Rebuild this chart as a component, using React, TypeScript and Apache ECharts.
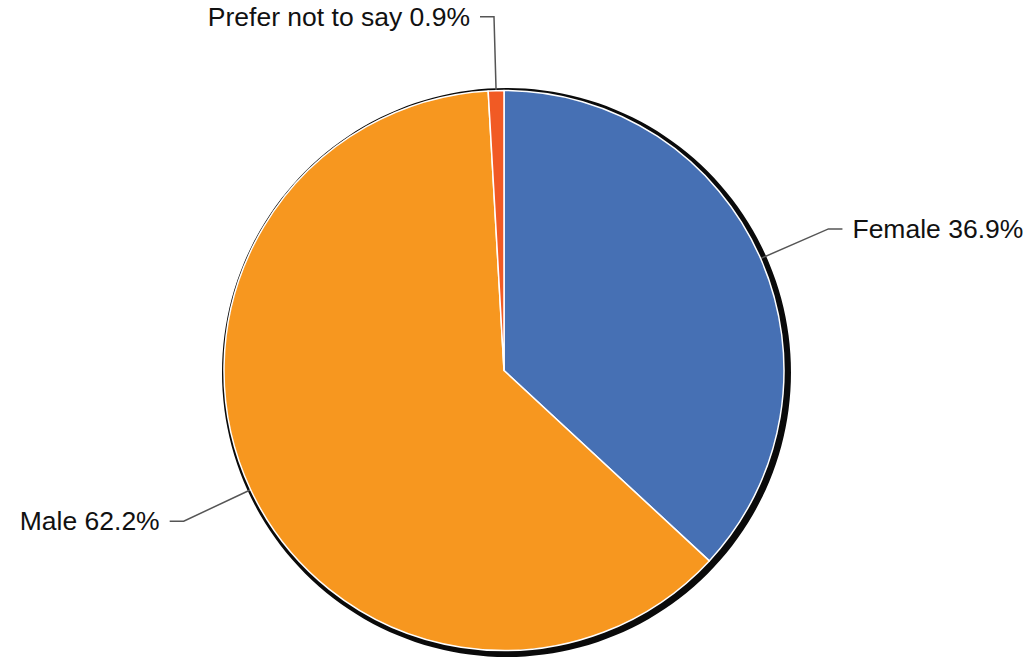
import React, { useEffect, useRef } from "react";
import * as echarts from "echarts";

const categories = ["Female", "Male", "Prefer not to say"];
const values = [36.9, 62.2, 0.9];
const colors = ["#4670b4", "#f7971f", "#f15a24"];

export default function App() {
  const ref = useRef<HTMLDivElement>(null);
  useEffect(() => {
    if (!ref.current) return;
    const chart = echarts.init(ref.current, null, { renderer: "svg" });
    const data = categories.map((name, i) => ({
      name,
      value: values[i],
      itemStyle: { color: colors[i] },
    }));
    chart.setOption({
      animation: false,
      backgroundColor: "#ffffff",
      series: [
        {
          type: "pie",
          silent: true,
          center: [506.5, 372.5],
          radius: 284.5,
          label: { show: false },
          labelLine: { show: false },
          itemStyle: { color: "#0a0a0a", borderWidth: 0 },
          emphasis: { disabled: true },
          data: [{ name: "shadow", value: 1 }],
          z: 1,
        },
        {
          type: "pie",
          center: [504, 370.5],
          radius: 280,
          startAngle: 90,
          clockwise: true,
          avoidLabelOverlap: false,
          itemStyle: { borderColor: "#ffffff", borderWidth: 1.5 },
          label: {
            show: true,
            formatter: (p: any) => `${p.name} ${p.value}%`,
            fontFamily: "Liberation Sans",
            fontSize: 26.5,
            color: "#111111",
            distanceToLabelLine: 10,
          },
          labelLine: {
            show: true,
            length: 74,
            length2: 14,
            lineStyle: { color: "#555555", width: 1.5 },
          },
          emphasis: { disabled: true },
          data,
          z: 2,
        },
      ],
    });
    return () => chart.dispose();
  }, []);
  return (
    <div
      ref={ref}
      style={{ position: "fixed", left: 0, top: 0, width: 1029, height: 660 }}
    />
  );
}
